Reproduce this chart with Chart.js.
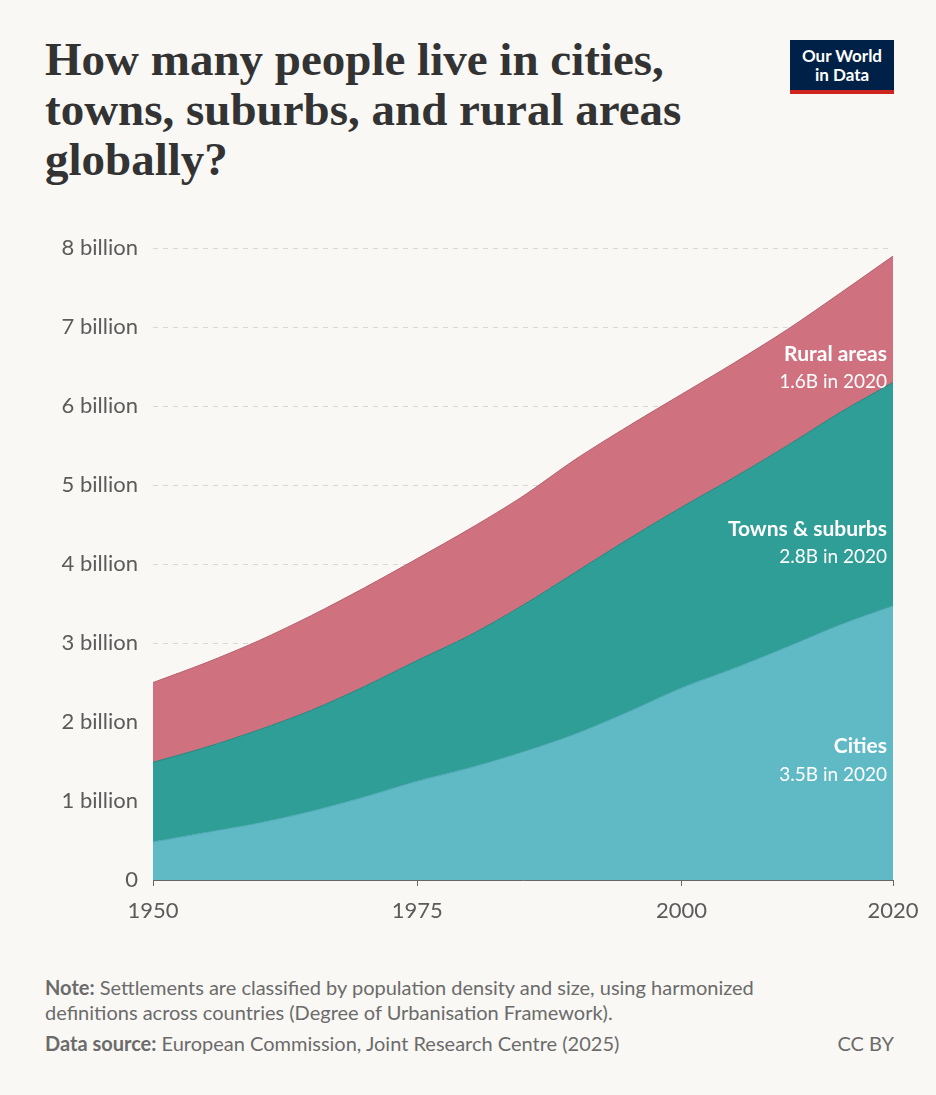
<!DOCTYPE html>
<html><head><meta charset="utf-8">
<script src="https://cdn.jsdelivr.net/npm/chart.js@4"></script>
<style>
body{margin:0;background:#f9f8f4;width:936px;height:1095px;position:relative;font-family:Lato,sans-serif;overflow:hidden}
h1{position:absolute;left:45px;top:34px;margin:0;font-family:"Liberation Serif",serif;font-weight:bold;font-size:47px;line-height:50px;color:#333;width:720px}
#logo{position:absolute;left:790px;top:40px;width:104px;height:54px;background:#002147;color:#fff;font-size:17px;font-weight:bold;line-height:19px;text-align:center;box-sizing:border-box;padding-top:6px;border-bottom:4px solid #ce261e}
#cv{position:absolute;left:0;top:220px}
.foot{position:absolute;left:45px;font-size:20px;color:#6b6b6b;line-height:25px}
.foot b{font-weight:bold;color:#6b6b6b}
</style></head><body>
<h1>How many people live in cities, towns, suburbs, and rural areas globally?</h1>
<div id="logo">Our World<br>in Data</div>
<canvas id="cv" width="936" height="710"></canvas>
<div class="foot" style="top:975px;width:790px"><b>Note:</b> Settlements are classified by population density and size, using harmonized definitions across countries (Degree of Urbanisation Framework).</div>
<div class="foot" style="top:1031px"><b>Data source:</b> European Commission, Joint Research Centre (2025)</div>
<div class="foot" style="top:1031px;left:auto;right:42px">CC BY</div>
<script>
const years=[1950,1955,1960,1965,1970,1975,1980,1985,1990,1995,2000,2005,2010,2015,2020];
const cities=[0.48,0.6,0.72,0.87,1.05,1.25,1.42,1.62,1.85,2.13,2.43,2.68,2.95,3.23,3.47];
const towns=[1.01,1.08,1.18,1.28,1.4,1.53,1.68,1.86,2.05,2.19,2.29,2.42,2.55,2.69,2.83];
const rural=[1.01,1.07,1.13,1.2,1.25,1.29,1.35,1.38,1.43,1.43,1.43,1.45,1.47,1.51,1.6];
const xTicks=[1950,1975,2000,2020];
const labels=[
 {name:'Rural areas',sub:'1.6B in 2020',v:6.66},
 {name:'Towns & suburbs',sub:'2.8B in 2020',v:4.44},
 {name:'Cities',sub:'3.5B in 2020',v:1.69}];
const B=1e9;
const mk=(arr)=>arr.map((v,i)=>({x:years[i],y:v*B}));
const labelPlugin={id:'lbl',afterDatasetsDraw(ch){
 const c=ch.ctx,y=ch.scales.y;c.save();c.textAlign='right';c.textBaseline='middle';c.fillStyle='#fff';
 labels.forEach(l=>{const p=y.getPixelForValue(l.v*B);
  c.font='bold 21px Lato';c.fillText(l.name,887,p);
  c.font='19px Lato';c.fillText(l.sub,887,p+28);});
 c.restore();}};
new Chart(document.getElementById('cv'),{type:'line',
 data:{datasets:[
  {label:'Cities',data:mk(cities),backgroundColor:'#5fbac6',borderColor:'#4fa9b5',fill:'origin'},
  {label:'Towns',data:mk(towns),backgroundColor:'#2e9e96',borderColor:'#23857e',fill:'-1'},
  {label:'Rural',data:mk(rural),backgroundColor:'#cf717f',borderColor:'#b8606d',fill:'-1'}]},
 options:{responsive:false,animation:false,
  elements:{point:{radius:0},line:{borderWidth:1,tension:0.3}},
  layout:{padding:{top:26,right:43,left:0,bottom:0}},
  plugins:{legend:{display:false},tooltip:{enabled:false}},
  scales:{
   x:{type:'linear',min:1950,max:2020,
    afterBuildTicks(s){s.ticks=xTicks.map(v=>({value:v}));},
    afterFit(s){s.height=50;},
    grid:{drawOnChartArea:false,drawTicks:true,tickLength:6,color:'#666'},border:{color:'#666'},
    ticks:{color:'#5b5b5b',font:{size:22,family:'Lato'},callback:v=>String(v),maxRotation:0,padding:12}},
   y:{stacked:true,min:0,max:8e9,
    afterFit(s){s.width=153;},
    border:{display:false,dash:[5,5]},
    grid:{color:'#d8d8d8',drawTicks:false,tickLength:0},
    ticks:{stepSize:1e9,color:'#5b5b5b',font:{size:22,family:'Lato'},padding:15,
     callback:v=>v===0?'0':(v/1e9)+' billion'}}}},
 plugins:[labelPlugin]});
</script></body></html>
